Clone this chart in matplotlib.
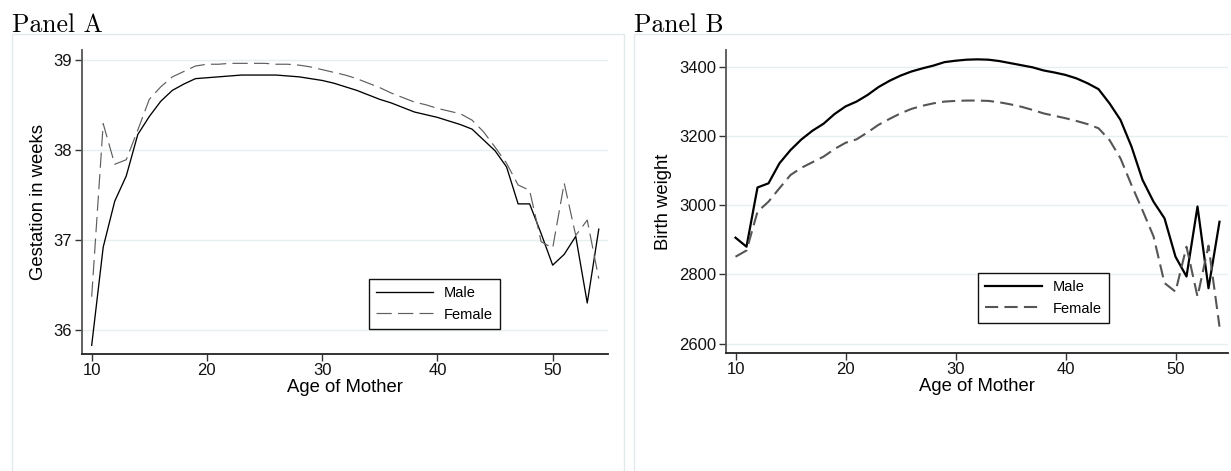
import matplotlib
matplotlib.use("Agg")
import matplotlib.pyplot as plt
from matplotlib.patches import Rectangle

# Mother's age, 10 to 54
ages = list(range(10, 55))

# Panel A: mean gestation (weeks)
gest_male = [35.83, 36.92, 37.43, 37.71, 38.17, 38.37, 38.54, 38.66, 38.73, 38.79,
             38.80, 38.81, 38.82, 38.83, 38.83, 38.83, 38.83, 38.82, 38.81, 38.79,
             38.77, 38.74, 38.70, 38.66, 38.61, 38.56, 38.52, 38.47, 38.42, 38.39,
             38.36, 38.32, 38.28, 38.23, 38.11, 37.99, 37.81, 37.40, 37.40, 37.07,
             36.72, 36.84, 37.04, 36.30, 37.12]
gest_female = [36.37, 38.29, 37.84, 37.89, 38.22, 38.56, 38.70, 38.81, 38.87, 38.93,
               38.95, 38.95, 38.96, 38.96, 38.96, 38.96, 38.95, 38.95, 38.94, 38.92,
               38.89, 38.86, 38.83, 38.79, 38.74, 38.69, 38.63, 38.58, 38.53, 38.50,
               38.46, 38.43, 38.40, 38.33, 38.20, 38.03, 37.85, 37.61, 37.55, 36.98,
               36.91, 37.63, 37.05, 37.22, 36.57]

# Panel B: mean birth weight (grams)
bw_male = [2906, 2880, 3051, 3063, 3121, 3159, 3190, 3215, 3235, 3263,
           3285, 3299, 3318, 3341, 3359, 3374, 3386, 3395, 3403, 3413,
           3417, 3420, 3421, 3420, 3416, 3410, 3404, 3398, 3389, 3383,
           3376, 3366, 3352, 3335, 3294, 3246, 3169, 3073, 3010, 2962,
           2851, 2794, 2996, 2760, 2952]
bw_female = [2851, 2869, 2981, 3010, 3049, 3087, 3108, 3124, 3140, 3162,
             3180, 3190, 3210, 3232, 3249, 3265, 3278, 3287, 3294, 3299,
             3301, 3302, 3302, 3301, 3297, 3291, 3284, 3275, 3265, 3258,
             3251, 3243, 3234, 3222, 3188, 3135, 3058, 2985, 2910, 2775,
             2750, 2880, 2736, 2883, 2649]

x_ticks = [10, 20, 30, 40, 50]
gest_ticks = [36, 37, 38, 39]
bw_ticks = [2600, 2800, 3000, 3200, 3400]

W, H = 1231, 471
plt.rcParams["font.family"] = ["Liberation Sans", "DejaVu Sans"]
plt.rcParams["lines.scale_dashes"] = False

fig = plt.figure(figsize=(W / 100, H / 100), dpi=100)
fig.patch.set_facecolor("white")

GRID = "#e6eef0"
BOX = "#e3eaec"


def px_rect(x0, x1, y0, y1):
    """Axes rectangle from pixel edges (y measured from the top)."""
    return [x0 / W, 1 - y1 / H, (x1 - x0) / W, (y1 - y0) / H]


def style_axes(ax):
    for side in ("top", "right"):
        ax.spines[side].set_visible(False)
    ax.spines["left"].set_color("#555555")
    ax.spines["left"].set_linewidth(1.3)
    ax.spines["bottom"].set_color("#222222")
    ax.spines["bottom"].set_linewidth(1.3)
    ax.tick_params(axis="both", direction="out", length=5, width=1.0,
                   colors="#333333", labelsize=12, labelcolor="#111111")
    ax.tick_params(axis="y", pad=2)
    ax.tick_params(axis="x", pad=1.5)
    ax.grid(axis="y", color=GRID, linewidth=1.0)
    ax.set_axisbelow(True)


def add_legend(ax, anchor):
    leg = ax.legend(loc="upper left", bbox_to_anchor=anchor, frameon=True,
                    fancybox=False, shadow=False, fontsize=10.5,
                    handlelength=3.9, handletextpad=0.7, borderpad=0.5,
                    labelspacing=0.5, borderaxespad=0.0)
    frame = leg.get_frame()
    frame.set_edgecolor("#111111")
    frame.set_linewidth(1.0)
    frame.set_alpha(1.0)


# Outer panel frames
fig.patches.append(Rectangle((12 / W, -0.1), (624 - 12) / W, 1.1 - 34 / H,
                             transform=fig.transFigure, fill=False,
                             edgecolor=BOX, linewidth=1.0))
fig.patches.append(Rectangle((634 / W, -0.1), (1260 - 634) / W, 1.1 - 34 / H,
                             transform=fig.transFigure, fill=False,
                             edgecolor=BOX, linewidth=1.0))

# Panel titles
fig.text(12 / W, 1 - 31.5 / H, "Panel A", family="cmr10", fontsize=18.5,
         va="baseline", ha="left")
fig.text(634 / W, 1 - 31.5 / H, "Panel B", family="cmr10", fontsize=18.5,
         va="baseline", ha="left")

# Panel A
axA = fig.add_axes(px_rect(82, 608, 50, 354))
axA.plot(ages, gest_male, color="black", linewidth=0.95, label="Male")
axA.plot(ages, gest_female, color="#5e5e5e", linewidth=0.85,
         dashes=(11, 4.5), label="Female")
axA.set_xlim(9.16, 54.8)
axA.set_ylim(35.734, 39.108)
axA.set_xticks(x_ticks)
axA.set_yticks(gest_ticks)
style_axes(axA)
axA.set_xlabel("Age of Mother", fontsize=13.3, labelpad=1)
axA.set_ylabel("Gestation in weeks", fontsize=13.3, labelpad=5)
add_legend(axA, ((369 - 82) / 526, (354 - 279) / 304))

# Panel B
axB = fig.add_axes(px_rect(726, 1228.3, 50, 353))
axB.plot(ages, bw_male, color="black", linewidth=1.6, label="Male")
axB.plot(ages, bw_female, color="#555555", linewidth=1.5,
         dashes=(9.5, 4.5), label="Female")
axB.set_xlim(9.136, 54.8)
axB.set_ylim(2573, 3448)
axB.set_xticks(x_ticks)
axB.set_yticks(bw_ticks)
style_axes(axB)
axB.set_xlabel("Age of Mother", fontsize=13.3, labelpad=1)
axB.set_ylabel("Birth weight", fontsize=13.3, labelpad=5)
add_legend(axB, ((978 - 726) / 502.3, (353 - 273) / 303))

fig.savefig("out.png", dpi=100, facecolor="white")
